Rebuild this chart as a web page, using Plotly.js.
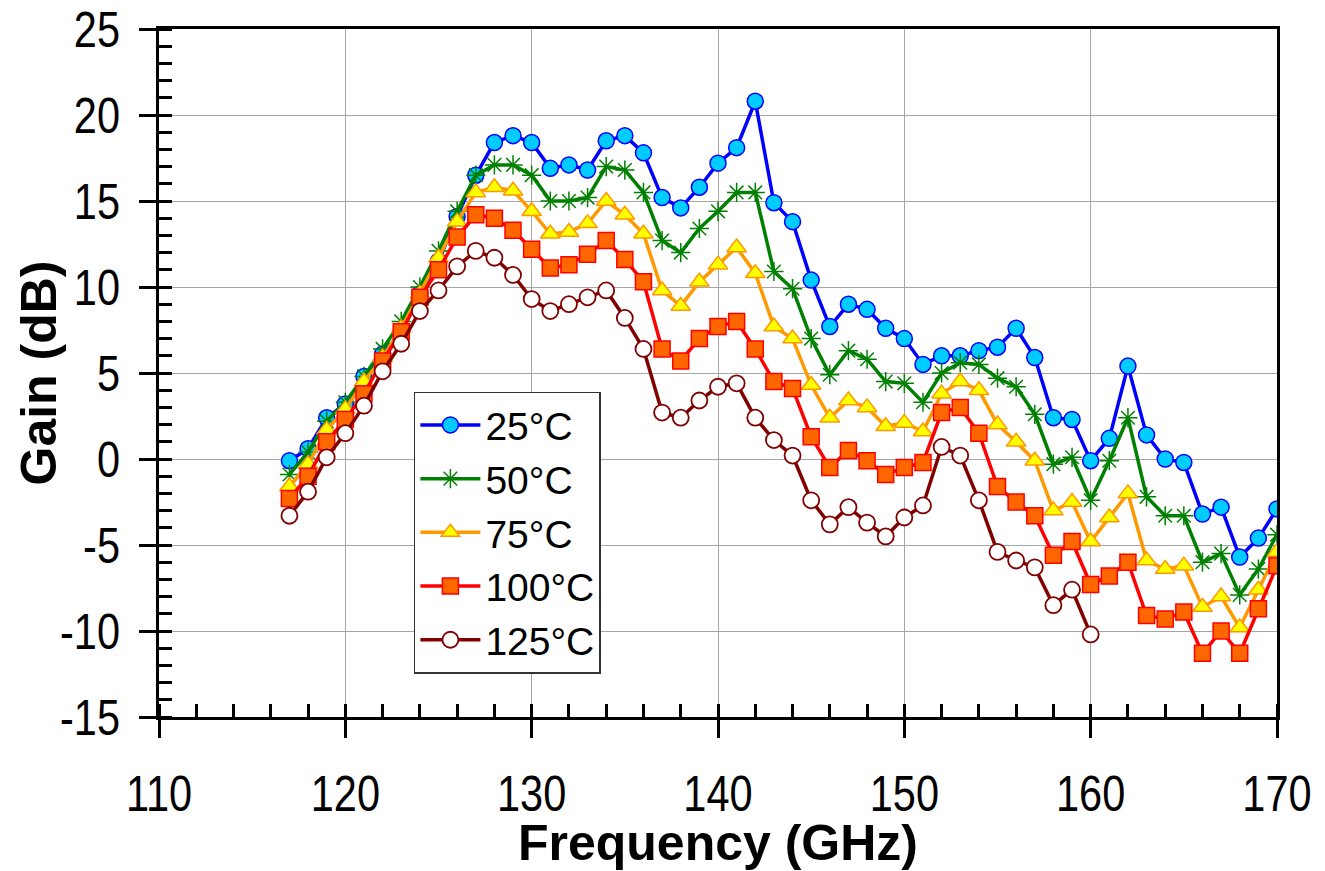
<!DOCTYPE html>
<html>
<head>
<meta charset="utf-8">
<script src="https://cdn.plot.ly/plotly-3.0.1.min.js"></script>
<style>html,body{margin:0;padding:0;background:#fff;}#chart{width:1325px;height:871px;}</style>
</head>
<body>
<div id="chart"></div>
<script>
// Frequency points (GHz)
const freq = [117,118,119,120,121,122,123,124,125,126,127,128,129,130,131,132,133,134,135,136,137,138,139,140,141,142,143,144,145,146,147,148,149,150,151,152,153,154,155,156,157,158,159,160,161,162,163,164,165,166,167,168,169,170];
const freq125 = [117,118,119,120,121,122,123,124,125,126,127,128,129,130,131,132,133,134,135,136,137,138,139,140,141,142,143,144,145,146,147,148,149,150,151,152,153,154,155,156,157,158,159,160];

// Gain (dB) per temperature
const gain25 = [-0.1,0.6,2.4,3.2,4.8,6.1,7.4,9.6,11.5,14.1, 16.5,18.4,18.8,18.4,16.9,17.1,16.8,18.5,18.8,17.8, 15.2,14.6,15.8,17.2,18.1,20.8,14.9,13.8,10.4,7.7, 9.0,8.7,7.6,7.0,5.5,6.0,6.0,6.3,6.5,7.6, 5.9,2.4,2.3,-0.1,1.2,5.4,1.4,0.0,-0.2,-3.2, -2.8,-5.7,-4.6,-2.9];
const gain50 = [-0.9,0.4,2.2,3.3,4.8,6.4,8.0,10.0,12.1,14.4, 16.5,17.1,17.1,16.5,15.0,15.0,15.2,17.0,16.8,15.5, 12.7,12.0,13.4,14.4,15.5,15.5,10.9,9.9,7.0,4.9, 6.3,5.8,4.5,4.4,3.3,5.0,5.6,5.5,4.7,4.2, 2.6,-0.3,0.1,-2.4,-0.1,2.4,-2.2,-3.3,-3.3,-6.0, -5.5,-7.9,-6.4,-4.4];
const gain75 = [-1.6,-0.3,1.7,2.9,4.5,5.9,7.6,9.6,11.7,13.8, 15.5,15.8,15.6,14.4,13.1,13.2,13.7,15.0,14.2,13.1, 9.8,8.9,10.3,11.3,12.3,10.8,7.7,7.0,4.3,2.4, 3.4,3.0,1.9,2.1,1.6,3.8,4.5,4.0,2.0,1.0, -0.1,-3.0,-2.5,-4.8,-3.4,-2.0,-5.9,-6.4,-6.2,-8.6, -8.0,-9.8,-7.6,-5.4];
const gain100 = [-2.3,-1.0,1.0,2.3,3.8,5.7,7.4,9.4,11.0,12.9, 14.2,14.0,13.3,12.2,11.1,11.3,11.9,12.7,11.6,10.3, 6.4,5.7,7.0,7.7,8.0,6.4,4.5,4.1,1.3,-0.5, 0.5,-0.1,-0.9,-0.5,-0.2,2.7,3.0,1.5,-1.6,-2.5, -3.3,-5.6,-4.8,-7.3,-6.8,-6.0,-9.1,-9.3,-8.9,-11.3, -10.0,-11.3,-8.7,-6.2];
const gain125 = [-3.3,-1.9,0.1,1.5,3.1,5.1,6.7,8.6,9.8,11.2, 12.1,11.7,10.7,9.3,8.6,9.0,9.4,9.8,8.2,6.4, 2.7,2.4,3.4,4.2,4.4,2.4,1.1,0.2,-2.4,-3.8, -2.8,-3.7,-4.5,-3.4,-2.7,0.7,0.2,-2.4,-5.4,-5.9, -6.3,-8.5,-7.6,-10.2];

const seriesNames = ['25°C','50°C','75°C','100°C','125°C'];
const xTickVals = [110,120,130,140,150,160,170];
const xTickText = ['110','120','130','140','150','160','170'];
const yTickVals = [-15,-10,-5,0,5,10,15,20,25];
const yTickText = ['-15','-10','-5','0','5','10','15','20','25'];

const traces = [
  {x: freq, y: gain25, name: seriesNames[0], mode:'lines+markers', legendgroup:'a',
   line:{color:'#0000FF', width:3.5},
   marker:{symbol:'circle', size:16, color:'#00CCFF', line:{color:'#0000FF', width:1.5}}},
  {x: freq, y: gain50, name: seriesNames[1], mode:'lines+markers', legendgroup:'b',
   line:{color:'#008000', width:3.5},
   marker:{symbol:'asterisk-open', size:16, color:'#008000', line:{color:'#008000', width:1.5}}},
  {x: freq, y: gain75, name: seriesNames[2], mode:'lines+markers', legendgroup:'c',
   line:{color:'#FF9900', width:3.5},
   marker:{symbol:'triangle-up', size:17, color:'#FFFF00', line:{color:'#FF9900', width:1.5}}},
  {x: freq, y: gain100, name: seriesNames[3], mode:'lines+markers', legendgroup:'d',
   line:{color:'#FF0000', width:3.5},
   marker:{symbol:'square', size:16, color:'#FF6600', line:{color:'#FF0000', width:1.5}}},
  {x: freq125, y: gain125, name: seriesNames[4], mode:'lines+markers', legendgroup:'e',
   line:{color:'#800000', width:3.5},
   marker:{symbol:'circle', size:16, color:'#FFFFFF', line:{color:'#800000', width:1.8}}}
];

const tickFont = {family:'"Liberation Sans", Arial, sans-serif', size:50, color:'#000'};
const titleFont = {family:'"Liberation Sans", Arial, sans-serif', size:50, color:'#000', weight:'bold'};

const layout = {
  width:1325, height:871,
  margin:{l:159, r:48, t:29, b:154},
  paper_bgcolor:'#fff', plot_bgcolor:'#fff',
  font:{family:'"Liberation Sans", Arial, sans-serif', color:'#000'},
  showlegend:true,
  legend:{x:0.228, y:0.473, xanchor:'left', yanchor:'top',
    bgcolor:'#fff', bordercolor:'#333', borderwidth:1.5,
    font:{family:'"Liberation Sans", Arial, sans-serif', size:39, color:'#000'},
    tracegroupgap:0, itemwidth:60},
  xaxis:{range:[110,170], tickmode:'array', tickvals:xTickVals, ticktext:xTickText,
    ticks:'outside', ticklen:18, tickwidth:3, tickcolor:'#000',
    minor:{dtick:2, tick0:110, ticks:'inside', ticklen:13, tickwidth:3, tickcolor:'#000', showgrid:false},
    showline:true, linecolor:'#000', linewidth:3, mirror:true,
    showgrid:true, gridcolor:'#A6A6A6', gridwidth:1, zeroline:false,
    tickfont:tickFont, ticklabelstandoff:13,
    title:{text:'Frequency (GHz)', font:titleFont, standoff:2}},
  yaxis:{range:[-15,25], tickmode:'array', tickvals:yTickVals, ticktext:yTickText,
    ticks:'outside', ticklen:17, tickwidth:3, tickcolor:'#000',
    minor:{dtick:1, tick0:-15, ticks:'inside', ticklen:13, tickwidth:3, tickcolor:'#000', showgrid:false},
    showline:true, linecolor:'#000', linewidth:3, mirror:true,
    showgrid:true, gridcolor:'#A6A6A6', gridwidth:1, zeroline:false,
    tickfont:tickFont, ticklabelstandoff:9,
    title:{text:'Gain (dB)', font:titleFont, standoff:0}},
  xaxis2:{range:[110,170], overlaying:'x', anchor:'y', side:'bottom', tickmode:'array', tickvals:xTickVals,
    ticks:'inside', ticklen:18, tickwidth:3, tickcolor:'#000', showticklabels:false,
    showgrid:false, showline:false, zeroline:false},
  yaxis2:{range:[-15,25], overlaying:'y', anchor:'x', side:'left', tickmode:'array', tickvals:yTickVals,
    ticks:'inside', ticklen:18, tickwidth:3, tickcolor:'#000', showticklabels:false,
    showgrid:false, showline:false, zeroline:false}
};

// The reference tick labels use a condensed face: compress the real text horizontally,
// keeping y labels right-aligned and x labels centred where Plotly placed them.
function condense(t, keep){
  const b0 = t.getBoundingClientRect();
  const len = t.getComputedTextLength();
  if (!(len > 0)) return;
  t.setAttribute('textLength', (len * 0.83).toFixed(1));
  t.setAttribute('lengthAdjust', 'spacingAndGlyphs');
  const b1 = t.getBoundingClientRect();
  const dx = keep === 'right' ? (b0.right - b1.right) : ((b0.left + b0.right) / 2 - (b1.left + b1.right) / 2);
  const x0 = parseFloat(t.getAttribute('x') || '0');
  t.setAttribute('x', (x0 + dx).toFixed(1));
}
function finish(){
  document.querySelectorAll('#chart g.ytick text').forEach(t => condense(t, 'right'));
  document.querySelectorAll('#chart g.xtick text').forEach(t => condense(t, 'center'));
  const yt = document.querySelector('#chart .ytitle');
  if (yt) {
    const b = yt.getBoundingClientRect();
    const dx = 38.5 - (b.left + b.right) / 2;
    const tr = yt.getAttribute('transform') || '';
    yt.setAttribute('transform', 'translate(' + dx.toFixed(1) + ',0) ' + tr);
  }
}

Plotly.newPlot('chart', traces, layout, {displayModeBar:false, staticPlot:true}).then(finish);
</script>
</body>
</html>
